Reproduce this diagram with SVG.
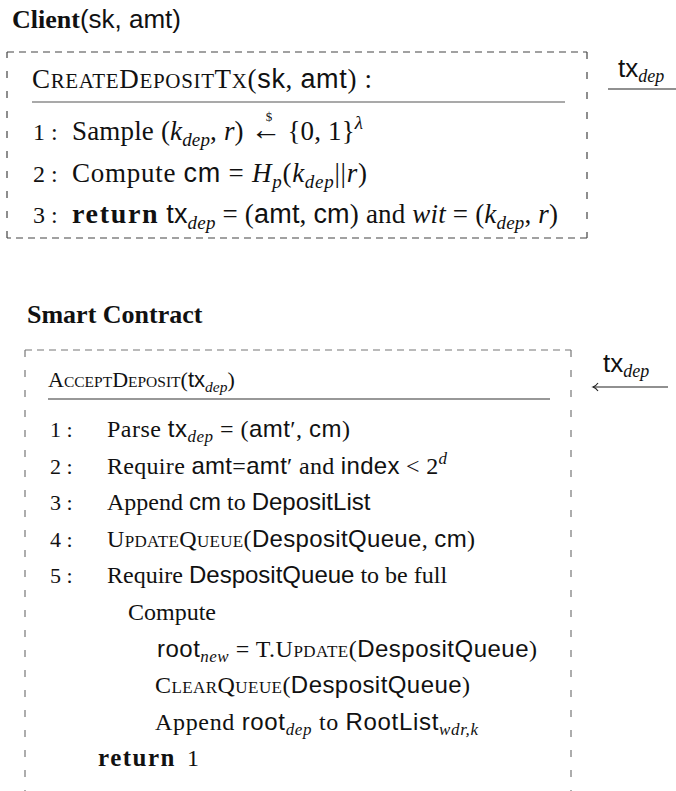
<svg xmlns="http://www.w3.org/2000/svg" width="676" height="791" viewBox="0 0 676 791">
<style>
text { font-family: "Liberation Serif", "Times New Roman", serif; fill: #111; }
.t { font-size: 26px; }
.c { font-size: 27px; }
.s { font-size: 24px; }
.nc { font-size: 24px; }
.ns { font-size: 22px; }
.b { font-weight: bold; }
.sf { font-family: "Liberation Sans", Arial, sans-serif; font-style: normal; }
.i { font-style: italic; }
.smc { font-size: 21px; }
.sms { font-size: 17px; }
.subc { font-size: 19px; font-style: italic; }
.subs { font-size: 17px; font-style: italic; }
.h1 { fill: none; stroke: #444; stroke-width: 1.2; stroke-dasharray: 7 5; }
.v1 { fill: none; stroke: #444; stroke-width: 1.2; stroke-dasharray: 7 13; }
.h2 { fill: none; stroke: #777; stroke-width: 1.2; stroke-dasharray: 7 5; }
.v2 { fill: none; stroke: #777; stroke-width: 1.2; stroke-dasharray: 7 13; }
.rule1 { stroke: #555; stroke-width: 1.2; }
.rule2 { stroke: #333; stroke-width: 1.2; }
.conn { stroke: #222; stroke-width: 1.1; fill: none; }
</style>
<rect width="676" height="791" fill="#fff"/>

<g id="client">
  <text class="t" x="12" y="28"><tspan class="b">Client</tspan><tspan class="sf">(sk, amt)</tspan></text>
  <path class="h1" d="M7,52 H587"/>
  <path class="v1" d="M587,52 V238"/>
  <path class="h1" d="M587,238 H7"/>
  <path class="v1" d="M7,238 V52"/>
  <text class="c" x="32" y="88" textLength="340" lengthAdjust="spacing">C<tspan class="smc">REATE</tspan>D<tspan class="smc">EPOSIT</tspan>T<tspan class="smc">X</tspan>(<tspan class="sf">sk</tspan>, <tspan class="sf">amt</tspan>) :</text>
  <line class="rule1" x1="32" y1="102" x2="565" y2="102"/>
  <text class="nc" x="33" y="140">1 :</text>
  <text class="c" x="72" y="140" textLength="291" lengthAdjust="spacing">Sample (<tspan class="i">k</tspan><tspan class="subc" dy="6">dep</tspan><tspan dy="-6">, </tspan><tspan class="i">r</tspan>) <tspan font-size="31">←</tspan><tspan font-size="13" dx="-16" dy="-19">$</tspan><tspan dx="8" dy="19"> {0, 1}</tspan><tspan class="subc" dy="-11">λ</tspan></text>
  <text class="nc" x="33" y="182">2 :</text>
  <text class="c" x="72" y="182" textLength="295" lengthAdjust="spacing">Compute <tspan class="sf">cm</tspan> = <tspan class="i">H</tspan><tspan class="subc" dy="6">p</tspan><tspan dy="-6">(</tspan><tspan class="i">k</tspan><tspan class="subc" dy="6">dep</tspan><tspan dy="-6">||</tspan><tspan class="i">r</tspan>)</text>
  <text class="nc" x="33" y="223">3 :</text>
  <text class="c" x="72" y="223" textLength="486" lengthAdjust="spacing"><tspan class="b" font-size="28" letter-spacing="1.5">return</tspan> <tspan class="sf">tx</tspan><tspan class="subc" dy="6">dep</tspan><tspan dy="-6"> = (</tspan><tspan class="sf">amt</tspan>, <tspan class="sf">cm</tspan>) and <tspan class="i">wit</tspan> = (<tspan class="i">k</tspan><tspan class="subc" dy="6">dep</tspan><tspan dy="-6">, </tspan><tspan class="i">r</tspan>)</text>
</g>

<g id="contract">
  <text class="t b" x="27" y="323">Smart Contract</text>
  <path class="h2" d="M25,350 H571"/>
  <path class="v2" d="M25,350 V791"/>
  <path class="v2" d="M571,350 V791"/>
  <text x="48" y="387" font-size="22">A<tspan font-size="15.5">CCEPT</tspan>D<tspan font-size="15.5">EPOSIT</tspan>(<tspan class="sf">tx</tspan><tspan class="i" font-size="15.5" dy="5">dep</tspan><tspan dy="-5">)</tspan></text>
  <line class="rule2" x1="48" y1="399" x2="550" y2="399"/>
  <text class="ns" x="50" y="437">1 :</text>
  <text class="s" x="107" y="437" textLength="243" lengthAdjust="spacing">Parse <tspan class="sf">tx</tspan><tspan class="subs" dy="5">dep</tspan><tspan dy="-5"> = (</tspan><tspan class="sf">amt</tspan>′, <tspan class="sf">cm</tspan>)</text>
  <text class="ns" x="50" y="474">2 :</text>
  <text class="s" x="107" y="474" textLength="340" lengthAdjust="spacing">Require <tspan class="sf">amt</tspan>=<tspan class="sf">amt</tspan>′ and <tspan class="sf">index</tspan> &lt; 2<tspan class="subs" dy="-10">d</tspan></text>
  <text class="ns" x="50" y="510">3 :</text>
  <text class="s" x="107" y="510">Append <tspan class="sf">cm</tspan> to <tspan class="sf">DepositList</tspan></text>
  <text class="ns" x="50" y="547">4 :</text>
  <text class="s" x="107" y="547" textLength="368" lengthAdjust="spacing">U<tspan class="sms">PDATE</tspan>Q<tspan class="sms">UEUE</tspan>(<tspan class="sf">DespositQueue</tspan>, <tspan class="sf">cm</tspan>)</text>
  <text class="ns" x="50" y="583">5 :</text>
  <text class="s" x="107" y="583">Require <tspan class="sf">DespositQueue</tspan> to be full</text>
  <text class="s" x="128" y="620">Compute</text>
  <text class="s" x="157" y="657" textLength="380" lengthAdjust="spacing"><tspan class="sf">root</tspan><tspan class="subs" dy="5">new</tspan><tspan dy="-5"> = T.U</tspan><tspan class="sms">PDATE</tspan>(<tspan class="sf">DespositQueue</tspan>)</text>
  <text class="s" x="155" y="693" textLength="315" lengthAdjust="spacing">C<tspan class="sms">LEAR</tspan>Q<tspan class="sms">UEUE</tspan>(<tspan class="sf">DespositQueue</tspan>)</text>
  <text class="s" x="155" y="730" textLength="323" lengthAdjust="spacing">Append <tspan class="sf">root</tspan><tspan class="subs" dy="5">dep</tspan><tspan dy="-5"> to </tspan><tspan class="sf">RootList</tspan><tspan class="subs" dy="5">wdr,k</tspan></text>
  <text class="s" x="98" y="766"><tspan class="b" font-size="25" letter-spacing="1.5">return</tspan><tspan x="187">1</tspan></text>
</g>

<g id="connectors">
  <g id="out-tx">
    <text class="t" x="618" y="77"><tspan class="sf">tx</tspan><tspan class="i" font-size="18" dy="5">dep</tspan></text>
    <line class="conn" x1="608" y1="89" x2="676" y2="89"/>
  </g>
  <g id="in-tx">
    <text class="t" x="603" y="372"><tspan class="sf">tx</tspan><tspan class="i" font-size="18" dy="5">dep</tspan></text>
    <line class="conn" x1="593" y1="387" x2="668" y2="387"/>
    <path class="conn" d="M598,383 Q596,386 593,387 Q596,388 598,391"/>
  </g>
</g>
</svg>
